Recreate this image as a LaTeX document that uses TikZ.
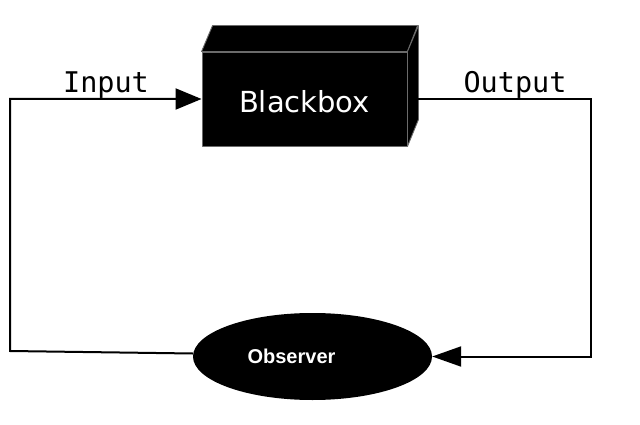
\documentclass[tikz,border=0pt]{standalone}
\usepackage{fontspec}
\setmainfont{DejaVu Sans}
\newfontfamily\monofont{DejaVu Sans Mono}
\newfontfamily\arialbold{Liberation Sans}
\usetikzlibrary{shapes.geometric,arrows.meta}
\definecolor{edgegray}{gray}{0.42}
\tikzset{
  conn/.style={line width=2pt, black},
  boxface/.style={fill=black, draw=edgegray, line width=0.9pt, line join=round},
  lbl/.style={font=\monofont\fontsize{28.5}{30}\selectfont, anchor=base, inner sep=0pt},
}
\begin{document}
\begin{tikzpicture}[x=1pt,y=-1pt]
\useasboundingbox (0,0) rectangle (640,425);
\fill[white] (0,0) rectangle (640,425);
% black box (front face) with 3D parts
\node[boxface, minimum width=205pt, minimum height=94pt, inner sep=0pt,
      text=white, font=\fontsize{29}{30}\selectfont, text height=28pt, text depth=0pt]
      (box) at (304.5,99) {Blackbox};
\draw[boxface] (box.north west) -- ++(11,-26) -- ++(205,0) -- (box.north east) -- cycle;
\draw[boxface] (box.north east) -- ++(11,-26) -- ++(0,94) -- (box.south east) -- cycle;
% observer
\node[ellipse, fill=black, minimum width=239pt, minimum height=87pt, inner sep=0pt] (obs) at (312.5,356.5) {};
\node[text=white, font=\arialbold\bfseries\fontsize{20}{22}\selectfont, inner sep=0pt]
      (obstext) at ([xshift=-21pt]obs.center) {Observer};
% labels
\node[lbl] (inlbl) at (106,93) {Input};
\node[lbl] (outlbl) at (515,93) {Output};
% connectors
\coordinate (ic) at (10,351);
\coordinate (oc) at (591,99);
\draw[conn, -{Triangle[length=26pt,width=21pt]}] ([yshift=3pt]obs.west) -- (ic) |- (box.west);
\draw[conn, -{Triangle[length=29pt,width=20pt]}] ([xshift=3pt]box.east) -- (oc) |- (obs.east);
\end{tikzpicture}
\end{document}
